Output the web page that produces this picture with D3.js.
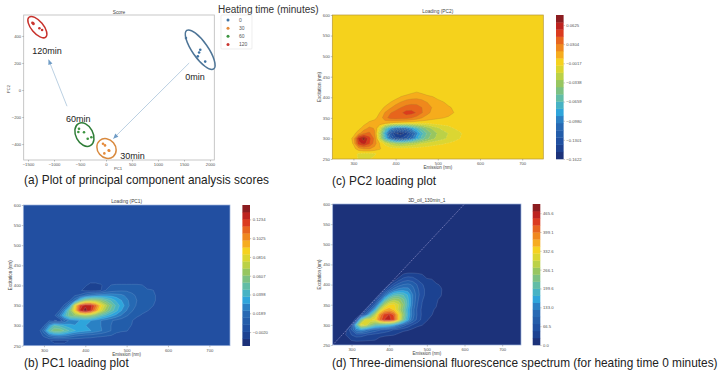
<!DOCTYPE html>
<html>
<head>
<meta charset="utf-8">
<script src="https://cdn.jsdelivr.net/npm/d3@7"></script>
<style>
body { margin: 0; background: #fff; }
text { font-family: "Liberation Sans", sans-serif; }
.tiny text { font-size: 4.2px; fill: #555; }
.tiny .domain { display: none; }
.tiny line { stroke: #666; stroke-width: 0.4; }
</style>
</head>
<body>
<svg id="chart" width="720" height="375"></svg>
<script>
// score plot
var heatingTimes = ["0", "30", "60", "120"];
var scoreColors = ["#3f73a3", "#e58a3a", "#3c9440", "#c9352f"];
var scoreX = [
    [1538, 1813, 1791, 1766, 1908],
    [-58, -19, -32, 52, 63],
    [-519, -532, -423, -352, -282],
    [-1415, -1396, -1281, -1229, -1402]
];
var scoreY = [
    [385, 298, 277, 249, 210],
    [-398, -410, -469, -447, -449],
    [-287, -311, -313, -361, -350],
    [498, 489, 457, 444, 494]
];
var scoreXTicks = [-1500, -1000, -500, 0, 500, 1000, 1500, 2000];
var scoreYTicks = [-400, -200, 0, 200, 400];

// cluster rings drawn over the score plot: centre in score units
var ringX = [1812, 10, -415, -1320];
var ringY = [298, -433, -330, 465];
var ringLong = [23.5, 10.5, 12.5, 13];
var ringShort = [7.8, 9, 8.6, 6];
var ringTilt = [55, 50, 62, 50];
var ringColors = ["#4e7597", "#d98a3f", "#2f7d38", "#c8322c"];
var ringLabels = ["0min", "30min", "60min", "120min"];
var labelX = [1710, 510, -535, -1135];
var labelY = [74, -507, -237, 270];

// arrows: from, to
var arrowX = [[1600, 140], [-750, -1105]];
var arrowY = [[200, -360], [-120, 225]];

// loading grids: rows from excitation 425 down to 250, columns emission 275 to 575, step 12.5
var emissionStart = 275;
var excitationTop = 425;
var gridStep = 12.5;

// PC2 loading x 1000
var pc2Grid = [
    [0,0,0,0,0,0,0,0,0,0,0,0,0,0,0,0,0,0,0,0,0,0,0,0,0],
    [0,0,0,0,0,0,0,0,0,0,0,0,0,4,7,4,0,0,0,0,0,0,0,0,0],
    [0,0,0,0,0,0,0,0,0,0,2,8,12,15,16,14,11,8,4,0,0,0,0,0,0],
    [0,0,0,0,0,0,0,0,0,7,14,20,25,27,27,24,19,15,11,8,3,0,0,0,0],
    [0,0,0,0,0,0,0,1,9,17,25,31,36,38,37,31,24,18,14,11,9,5,0,0,0],
    [0,0,0,0,0,0,2,7,20,30,36,41,48,48,42,32,22,16,12,10,9,7,1,0,0],
    [0,0,0,0,0,1,3,12,26,36,38,38,37,32,26,19,14,10,8,7,6,2,0,0,0],
    [0,0,0,0,3,9,13,14,12,6,3,1,-1,-1,-2,-2,-2,0,1,1,0,0,0,0,0],
    [0,0,0,3,12,22,18,-8,-52,-85,-102,-105,-100,-86,-68,-50,-36,-26,-19,-13,-9,-5,-1,0,0],
    [0,0,2,14,30,34,20,-22,-80,-125,-150,-155,-145,-122,-95,-70,-52,-38,-28,-22,-17,-13,-8,-3,0],
    [0,0,10,60,72,48,28,-20,-70,-110,-135,-138,-128,-108,-82,-60,-45,-33,-25,-20,-15,-11,-6,-2,0],
    [0,0,8,50,60,45,25,6,-8,-22,-32,-35,-32,-28,-22,-16,-12,-9,-7,-6,-4,-1,0,0,0],
    [0,0,2,14,20,20,14,8,1,0,0,0,0,0,0,0,0,0,0,0,0,0,0,0,0],
    [0,0,-1,-7,-9,-9,-7,-1,0,0,0,0,0,0,0,0,0,0,0,0,0,0,0,0,0],
    [0,0,0,-6,-6,-6,-2,0,0,0,0,0,0,0,0,0,0,0,0,0,0,0,0,0,0]
];
var pc2Range = [-162.2, 79.3];
var pc2Ticks = [-0.1622, -0.1301, -0.0980, -0.0659, -0.0338, -0.0017, 0.0304, 0.0625];

// PC1 loading x 1000
var pc1Grid = [
    [0,0,0,0,0,0,0,0,0,0,0,0,0,0,0,0,0,0,0,0,0,0,0,0,0],
    [0,0,0,0,0,0,0,0,0,0,0,0,0,0,0,0,0,0,0,0,0,0,0,0,0],
    [0,0,0,0,0,0,0,0,0,0,-1,-3,-3,-2,0,7,8,8,8,8,8,7,2,0,0],
    [0,0,0,0,0,0,0,0,0,-1,-3,-4,-4,-2,7,10,12,13,13,12,10,9,8,7,3],
    [0,0,0,0,0,0,0,0,6,8,16,22,26,28,28,28,26,24,20,16,13,11,10,8,5],
    [0,0,0,0,0,0,0,6,20,48,66,70,68,62,52,44,36,30,24,18,14,12,10,8,5],
    [0,0,0,0,0,0,8,28,85,118,130,128,112,88,72,56,43,34,26,18,13,11,9,7,3],
    [0,0,0,0,0,6,28,58,90,125,135,125,102,80,64,50,40,30,22,15,11,9,7,3,0],
    [0,0,0,0,4,20,42,58,62,66,70,66,58,48,40,33,27,21,15,11,8,5,1,0,0],
    [0,0,0,5,-2,-1,14,25,28,30,32,30,26,22,18,15,12,10,8,7,2,0,0,0,0],
    [0,0,6,28,46,42,36,32,30,30,30,28,26,22,18,14,11,9,8,6,1,0,0,0,0],
    [0,2,20,48,60,60,52,44,38,34,32,30,27,23,18,14,10,8,7,3,0,0,0,0,0],
    [0,1,8,18,24,26,24,20,16,14,12,11,9,8,7,6,2,0,0,0,0,0,0,0,0],
    [0,0,0,-1,-3,-3,-3,-1,0,0,0,0,0,0,0,0,0,0,0,0,0,0,0,0,0],
    [0,0,0,0,0,0,0,0,0,0,0,0,0,0,0,0,0,0,0,0,0,0,0,0,0]
];
var pc1Range = [-17.2, 139.4];
var pc1Ticks = [-0.0020, 0.0189, 0.0398, 0.0607, 0.0816, 0.1025, 0.1234];

// spectrum intensity
var specGrid = [
    [0,0,0,0,0,0,0,0,0,0,0,0,0,28,35,35,32,26,0,0,0,0,0,0,0],
    [0,0,0,0,0,0,0,0,0,0,0,10,40,60,68,62,48,38,32,27,10,0,0,0,0],
    [0,0,0,0,0,0,0,0,0,0,25,60,85,100,105,95,72,52,40,34,30,20,0,0,0],
    [0,0,0,0,0,0,0,0,0,30,75,115,135,140,135,110,80,58,42,35,32,29,6,0,0],
    [0,0,0,0,0,0,0,0,30,100,160,195,205,195,170,125,85,58,42,34,30,27,5,0,0],
    [0,0,0,0,0,0,0,30,95,185,245,270,262,230,180,125,80,52,39,32,28,20,0,0,0],
    [0,0,0,0,0,0,30,85,185,280,325,330,300,250,185,120,75,48,36,30,27,6,0,0,0],
    [0,0,0,0,0,30,85,175,290,350,365,345,295,235,170,110,68,44,33,28,22,0,0,0,0],
    [0,0,0,0,30,100,200,290,385,435,450,420,340,255,175,112,70,45,32,27,10,0,0,0,0],
    [0,0,0,40,225,315,320,330,405,450,460,430,340,235,160,102,65,42,30,10,0,0,0,0,0],
    [0,0,30,200,330,320,265,225,215,210,198,172,130,95,68,48,36,27,8,0,0,0,0,0,0],
    [0,25,75,135,150,128,105,90,78,68,58,48,40,33,28,18,6,0,0,0,0,0,0,0,0],
    [10,30,50,62,60,52,46,40,36,32,29,26,18,6,0,0,0,0,0,0,0,0,0,0,0],
    [0,6,28,33,32,30,28,26,12,5,0,0,0,0,0,0,0,0,0,0,0,0,0,0,0],
    [0,0,0,0,0,0,0,0,0,0,0,0,0,0,0,0,0,0,0,0,0,0,0,0,0]
];
var specRange = [0, 498];
var specTicks = [0, 66.5, 133.0, 199.6, 266.1, 332.6, 399.1, 465.6];

var emissionTicks = [300, 400, 500, 600, 700];
var excitationTicks = [250, 300, 350, 400, 450, 500, 550, 600];

var rampStops = [0, 0.1, 0.25, 0.33, 0.42, 0.52, 0.6, 0.67, 0.73, 0.82, 0.9, 1];
var rampColors = ["#1b2a6e", "#1e4a9c", "#2a6fb8", "#2fa9dd", "#5fbdaa", "#93c563", "#cdd63a", "#f5d61f", "#f6a81f", "#e8691f", "#d5261f", "#741a20"];
var ramp = d3.scaleLinear().domain(rampStops).range(rampColors);
var bandCount = 20;

var svg = d3.select("#chart");
var defs = svg.append("defs");
defs.append("filter").attr("id", "soft")
    .append("feGaussianBlur").attr("stdDeviation", 0.5);

// whole plot grid with the picture's background value outside the read window
function fullGrid(rows) {
    var cols = 41, height = 29;
    var values = new Array(cols * height).fill(0);
    var firstCol = (emissionStart - 250) / gridStep;
    var firstRow = (600 - excitationTop) / gridStep;
    rows.forEach(function (row, j) {
        row.forEach(function (v, i) {
            values[(firstRow + j) * cols + firstCol + i] = v;
        });
    });
    return { values: values, cols: cols, height: height };
}

function contourPanel(opt) {
    var x = d3.scaleLinear().domain([250, 750]).range([opt.left, opt.right]);
    var y = d3.scaleLinear().domain([250, 600]).range([opt.bottom, opt.top]);
    var g = svg.append("g");
    var clipId = "clip" + opt.id;

    defs.append("clipPath").attr("id", clipId).append("rect")
        .attr("x", opt.left).attr("y", opt.top)
        .attr("width", opt.right - opt.left).attr("height", opt.bottom - opt.top);

    var grid = fullGrid(opt.rows);
    var bandSize = (opt.range[1] - opt.range[0]) / bandCount;
    var thresholds = d3.range(0, bandCount).map(function (k) { return opt.range[0] + k * bandSize; });

    var toScreen = d3.geoTransform({
        point: function (cx, cy) {
            this.stream.point(x(250 + (cx - 0.5) * gridStep), y(600 - (cy - 0.5) * gridStep));
        }
    });
    var path = d3.geoPath(toScreen);
    var contours = d3.contours().size([grid.cols, grid.height]).thresholds(thresholds)(grid.values);

    var plot = g.append("g").attr("clip-path", "url(#" + clipId + ")");
    var inner = plot.append("g").attr("filter", "url(#soft)");
    inner.append("rect")
        .attr("x", opt.left - 3).attr("y", opt.top - 3)
        .attr("width", opt.right - opt.left + 6).attr("height", opt.bottom - opt.top + 6)
        .attr("fill", ramp(0.5 / bandCount));

    inner.selectAll("path.band").data(contours).enter().append("path")
        .attr("class", "band")
        .attr("d", path)
        .attr("fill", function (d, k) { return ramp((k + 0.5) / bandCount); })
        .attr("stroke", "none");

    // contour lines on top, skipping the outer frame of the lowest levels
    plot.selectAll("path.line").data(contours.slice(1)).enter().append("path")
        .attr("class", "line")
        .attr("d", path)
        .attr("fill", "none")
        .attr("stroke", function (d) { return d.value < opt.zero ? opt.lineLow : opt.lineHigh; })
        .attr("stroke-width", 0.4)
        .attr("stroke-opacity", opt.lineOpacity)
        .attr("stroke-dasharray", function (d) { return d.value < opt.zero ? "0.8,0.8" : null; });

    if (opt.diagonal) {
        plot.append("line")
            .attr("x1", x(250)).attr("y1", y(250)).attr("x2", x(600)).attr("y2", y(600))
            .attr("stroke", "#a9a6dc").attr("stroke-width", 0.6).attr("stroke-dasharray", "1.5,1");
    }

    g.append("rect")
        .attr("x", opt.left).attr("y", opt.top)
        .attr("width", opt.right - opt.left).attr("height", opt.bottom - opt.top)
        .attr("fill", "none").attr("stroke", opt.frame).attr("stroke-width", 0.7);

    g.append("g").attr("class", "tiny")
        .attr("transform", "translate(0," + opt.bottom + ")")
        .call(d3.axisBottom(x).tickValues(emissionTicks).tickSize(1.5).tickPadding(1.5));
    g.append("g").attr("class", "tiny")
        .attr("transform", "translate(" + opt.left + ",0)")
        .call(d3.axisLeft(y).tickValues(excitationTicks).tickSize(1.5).tickPadding(1));

    g.append("text").attr("x", (opt.left + opt.right) / 2).attr("y", opt.top - 2.5)
        .attr("text-anchor", "middle").attr("font-size", 4.8).attr("fill", "#444").text(opt.title);
    g.append("text").attr("x", (opt.left + opt.right) / 2).attr("y", opt.bottom + 10)
        .attr("text-anchor", "middle").attr("font-size", 4.5).attr("fill", "#444").text("Emission (nm)");
    g.append("text")
        .attr("transform", "translate(" + (opt.left - 11.5) + "," + (opt.top + opt.bottom) / 2 + ") rotate(-90)")
        .attr("text-anchor", "middle").attr("font-size", 4.5).attr("fill", "#444").text("Excitation (nm)");

    // colour bar
    var c = d3.scaleLinear().domain([opt.range[0] / opt.scale, opt.range[1] / opt.scale]).range([opt.bottom, opt.top]);
    var bar = g.append("g");
    bar.selectAll("rect").data(thresholds).enter().append("rect")
        .attr("x", opt.barLeft)
        .attr("y", function (d) { return c((d + bandSize) / opt.scale); })
        .attr("width", 7.6)
        .attr("height", function (d) { return c(d / opt.scale) - c((d + bandSize) / opt.scale) + 0.3; })
        .attr("fill", function (d, k) { return ramp((k + 0.5) / bandCount); });
    g.append("g").attr("class", "tiny")
        .attr("transform", "translate(" + (opt.barLeft + 7.6) + ",0)")
        .call(d3.axisRight(c).tickValues(opt.ticks).tickSize(1.2).tickPadding(1.5)
            .tickFormat(function (d) {
                return String(opt.scale === 1 ? d.toFixed(1) : d.toFixed(4)).replace("-", "\u2212");
            }));
}

function scorePanel() {
    var left = 23.7, right = 214.3, top = 15, bottom = 160;
    var x = d3.scaleLinear().domain([-1583, 2083]).range([left, right]);
    var y = d3.scaleLinear().domain([-518, 555]).range([bottom, top]);
    var g = svg.append("g");

    g.append("rect")
        .attr("x", left).attr("y", top).attr("width", right - left).attr("height", bottom - top)
        .attr("fill", "#fff").attr("stroke", "#b9b9b9").attr("stroke-width", 0.8);

    g.append("g").attr("class", "tiny")
        .attr("transform", "translate(0," + bottom + ")")
        .call(d3.axisBottom(x).tickValues(scoreXTicks).tickSize(1.5).tickPadding(1.5)
            .tickFormat(function (d) { return String(d).replace("-", "\u2212"); }));
    g.append("g").attr("class", "tiny")
        .attr("transform", "translate(" + left + ",0)")
        .call(d3.axisLeft(y).tickValues(scoreYTicks).tickSize(1.5).tickPadding(1)
            .tickFormat(function (d) { return String(d).replace("-", "\u2212"); }));

    g.append("text").attr("x", 119).attr("y", 13.5).attr("text-anchor", "middle")
        .attr("font-size", 4.8).attr("fill", "#444").text("Score");
    g.append("text").attr("x", 118).attr("y", 170).attr("text-anchor", "middle")
        .attr("font-size", 4.2).attr("fill", "#444").text("PC1");
    g.append("text").attr("transform", "translate(9.5,89) rotate(-90)").attr("text-anchor", "middle")
        .attr("font-size", 4.2).attr("fill", "#444").text("PC2");

    heatingTimes.forEach(function (t, i) {
        g.selectAll("circle.s" + i).data(scoreX[i]).enter().append("circle")
            .attr("class", "s" + i)
            .attr("cx", function (d) { return x(d); })
            .attr("cy", function (d, k) { return y(scoreY[i][k]); })
            .attr("r", 1.3)
            .attr("fill", scoreColors[i]);

        g.append("ellipse")
            .attr("rx", ringLong[i]).attr("ry", ringShort[i])
            .attr("transform", "translate(" + x(ringX[i]) + "," + y(ringY[i]) + ") rotate(" + ringTilt[i] + ")")
            .attr("fill", "none").attr("stroke", ringColors[i]).attr("stroke-width", 1.5);

        g.append("text")
            .attr("x", x(labelX[i])).attr("y", y(labelY[i]))
            .attr("font-family", "Open Sans").attr("font-size", 9).attr("fill", "#222")
            .attr("text-anchor", "middle").text(ringLabels[i]);
    });

    arrowX.forEach(function (ax, i) {
        var x1 = x(ax[0]), y1 = y(arrowY[i][0]), x2 = x(ax[1]), y2 = y(arrowY[i][1]);
        var a = Math.atan2(y2 - y1, x2 - x1) * 180 / Math.PI;
        g.append("line").attr("x1", x1).attr("y1", y1).attr("x2", x2).attr("y2", y2)
            .attr("stroke", "#9dbbd6").attr("stroke-width", 0.7);
        g.append("path").attr("d", "M0,0L-5,-2.2L-5,2.2Z")
            .attr("transform", "translate(" + x2 + "," + y2 + ") rotate(" + a + ")")
            .attr("fill", "#6f9cc6");
    });

    // legend
    g.append("text").attr("x", 218).attr("y", 12.5).attr("font-size", 10).attr("fill", "#333")
        .text("Heating time (minutes)");
    g.append("rect").attr("x", 221).attr("y", 15).attr("width", 31).attr("height", 34)
        .attr("rx", 1).attr("fill", "#fff").attr("stroke", "#e2e2e2").attr("stroke-width", 0.6);
    var legendY = d3.scalePoint().domain(heatingTimes).range([20, 44.5]);
    heatingTimes.forEach(function (t, i) {
        g.append("circle").attr("cx", 228).attr("cy", legendY(t)).attr("r", 1.5).attr("fill", scoreColors[i]);
        g.append("text").attr("x", 239).attr("y", legendY(t) + 1.8).attr("font-size", 5).attr("fill", "#555").text(t);
    });
}

function caption(x, y, text) {
    svg.append("text").attr("x", x).attr("y", y).attr("font-size", 11.85).attr("fill", "#222").text(text);
}

scorePanel();

contourPanel({ id: "c", title: "Loading (PC2)", rows: pc2Grid, range: pc2Range, ticks: pc2Ticks, scale: 1000,
    left: 332.3, right: 543.3, top: 15, bottom: 159, barLeft: 556, frame: "#b5973a",
    zero: -5, lineLow: "#f4f0b0", lineHigh: "#a8802a", lineOpacity: 0.7 });

contourPanel({ id: "b", title: "Loading (PC1)", rows: pc1Grid, range: pc1Range, ticks: pc1Ticks, scale: 1000,
    left: 23.3, right: 230, top: 205, bottom: 345.7, barLeft: 242.4, frame: "#9fb4dc",
    zero: -5, lineLow: "#8fa6e0", lineHigh: "#cfe0f5", lineOpacity: 0.35 });

contourPanel({ id: "d", title: "3D_oil_130min_1", rows: specGrid, range: specRange, ticks: specTicks, scale: 1,
    left: 332.7, right: 521, top: 204, bottom: 345, barLeft: 532.7, frame: "#9fb4dc", diagonal: true,
    zero: -5, lineLow: "#8fa6e0", lineHigh: "#cfe0f5", lineOpacity: 0.35 });

caption(24, 184, "(a) Plot of principal component analysis scores");
caption(332, 185, "(c) PC2 loading plot");
caption(24, 367, "(b) PC1 loading plot");
caption(332, 367, "(d) Three-dimensional fluorescence spectrum (for heating time 0 minutes)");
</script>
</body>
</html>
